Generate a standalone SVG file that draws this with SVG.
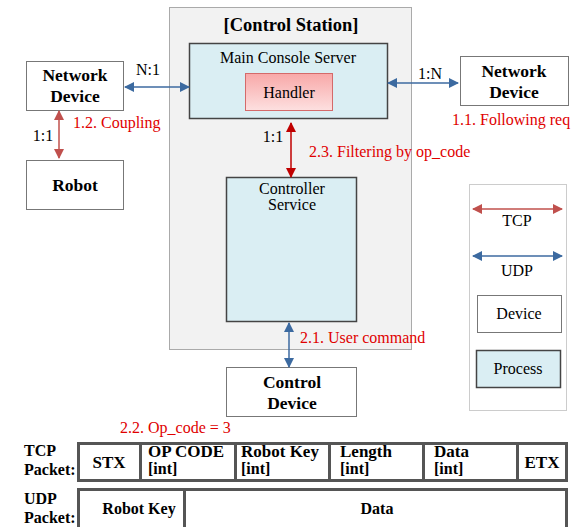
<svg xmlns="http://www.w3.org/2000/svg" width="575" height="527" viewBox="0 0 575 527">
<defs>
<marker id="ab" viewBox="0 0 10 10" refX="9" refY="5" markerWidth="10" markerHeight="10" markerUnits="userSpaceOnUse" orient="auto-start-reverse"><path d="M0,0 L10,5 L0,10 z" fill="#3c6aa0"/></marker>
<marker id="ar" viewBox="0 0 10 10" refX="9" refY="5" markerWidth="10" markerHeight="10" markerUnits="userSpaceOnUse" orient="auto-start-reverse"><path d="M0,0 L10,5 L0,10 z" fill="#c0504d"/></marker>
<marker id="ar2" viewBox="0 0 10 10" refX="9" refY="5" markerWidth="10" markerHeight="10" markerUnits="userSpaceOnUse" orient="auto-start-reverse"><path d="M0,0 L10,5 L0,10 z" fill="#c00000"/></marker>
<linearGradient id="hg" x1="0" y1="0" x2="0" y2="1"><stop offset="0" stop-color="#f8a8a8"/><stop offset="1" stop-color="#fde0e0"/></linearGradient>
</defs>
<style>
.b{font-weight:bold;font-size:17.5px}
.p{font-weight:bold;font-size:16px}
.c{font-weight:bold;font-size:17px}
.i{font-weight:bold;font-size:16px}
.n{font-size:16px}
.r{fill:#e00000;font-size:16px}
.dev{fill:#fff;stroke:#777;stroke-width:1}
.proc{fill:#daeef3;stroke:#444;stroke-width:1.5}
.cell{fill:#fff;stroke:#555;stroke-width:3}
.blue{stroke:#3c6aa0;stroke-width:1.5;fill:none}
.red{stroke:#c0504d;stroke-width:1.5;fill:none}
.red2{stroke:#c00000;stroke-width:1.5;fill:none}
</style>
<rect width="575" height="527" fill="#fff"/>
<g id="control-station">
<rect x="169.5" y="7.5" width="242" height="342" fill="#f2f2f2" stroke="#aaa"/>
<text x="291" y="31" text-anchor="middle" font-family="Liberation Serif" style="font-weight:bold;font-size:18.5px">[Control Station]</text>
</g>
<g id="main-console">
<rect x="189.5" y="43.5" width="198" height="75" class="proc"/>
<text x="288" y="63" text-anchor="middle" font-family="Liberation Serif" class="n">Main Console Server</text>
</g>
<g id="handler">
<rect x="245.5" y="73.5" width="87" height="37" fill="url(#hg)" stroke="#d46a6a"/>
<text x="289" y="98" text-anchor="middle" font-family="Liberation Serif" class="n">Handler</text>
</g>
<g id="controller-service">
<rect x="226.5" y="177.5" width="130" height="144" class="proc"/>
<text x="292" y="194" text-anchor="middle" font-family="Liberation Serif" class="n">Controller</text>
<text x="292" y="210" text-anchor="middle" font-family="Liberation Serif" class="n">Service</text>
</g>
<g id="network-device-left">
<rect x="26.5" y="61.5" width="97" height="49" class="dev"/>
<text x="75" y="81" text-anchor="middle" font-family="Liberation Serif" class="b">Network</text>
<text x="75" y="102" text-anchor="middle" font-family="Liberation Serif" class="b">Device</text>
</g>
<g id="robot">
<rect x="26.5" y="160.5" width="97" height="49" class="dev"/>
<text x="75" y="191" text-anchor="middle" font-family="Liberation Serif" class="b">Robot</text>
</g>
<g id="network-device-right">
<rect x="460.5" y="56.5" width="108" height="49" class="dev"/>
<text x="514" y="77" text-anchor="middle" font-family="Liberation Serif" class="b">Network</text>
<text x="514" y="98" text-anchor="middle" font-family="Liberation Serif" class="b">Device</text>
</g>
<g id="control-device">
<rect x="226.5" y="367.5" width="130" height="49" class="dev"/>
<text x="292" y="388" text-anchor="middle" font-family="Liberation Serif" class="b">Control</text>
<text x="292" y="409" text-anchor="middle" font-family="Liberation Serif" class="b">Device</text>
</g>
<g id="connectors">
<line x1="125" y1="87" x2="189" y2="87" class="blue" marker-start="url(#ab)" marker-end="url(#ab)"/>
<line x1="388" y1="83" x2="458" y2="83" class="blue" marker-start="url(#ab)" marker-end="url(#ab)"/>
<line x1="59" y1="111" x2="59" y2="158" class="red" marker-start="url(#ar)" marker-end="url(#ar)"/>
<line x1="291" y1="123" x2="291" y2="177" class="red2" marker-start="url(#ar2)" marker-end="url(#ar2)"/>
<line x1="289" y1="323" x2="289" y2="367" class="blue" marker-start="url(#ab)" marker-end="url(#ab)"/>
</g>
<g id="labels">
<text x="148" y="75" text-anchor="middle" font-family="Liberation Serif" class="n">N:1</text>
<text x="430" y="79" text-anchor="middle" font-family="Liberation Serif" class="n">1:N</text>
<text x="43" y="141" text-anchor="middle" font-family="Liberation Serif" class="n">1:1</text>
<text x="273" y="142" text-anchor="middle" font-family="Liberation Serif" class="n">1:1</text>
<text x="73" y="128" font-family="Liberation Serif" class="r">1.2. Coupling</text>
<text x="452" y="125" font-family="Liberation Serif" class="r">1.1. Following req</text>
<text x="309" y="157" font-family="Liberation Serif" class="r">2.3. Filtering by op_code</text>
<text x="300" y="343" font-family="Liberation Serif" class="r">2.1. User command</text>
<text x="120" y="433" font-family="Liberation Serif" class="r">2.2. Op_code = 3</text>
</g>
<g id="legend">
<rect x="469.5" y="184.5" width="97" height="226" fill="#fff" stroke="#ccc"/>
<line x1="473" y1="209" x2="562" y2="209" class="red" marker-start="url(#ar)" marker-end="url(#ar)"/>
<text x="517" y="226" text-anchor="middle" font-family="Liberation Serif" class="n">TCP</text>
<line x1="473" y1="256" x2="562" y2="256" class="blue" marker-start="url(#ab)" marker-end="url(#ab)"/>
<text x="517" y="276" text-anchor="middle" font-family="Liberation Serif" class="n">UDP</text>
<rect x="477.5" y="295.5" width="84" height="37" class="dev"/>
<text x="519" y="319" text-anchor="middle" font-family="Liberation Serif" class="n">Device</text>
<rect x="476.5" y="350.5" width="84" height="37" class="proc"/>
<text x="518" y="374" text-anchor="middle" font-family="Liberation Serif" class="n">Process</text>
</g>
<g id="tcp-packet">
<text x="24" y="456" font-family="Liberation Serif" class="p">TCP</text>
<text x="24" y="475" font-family="Liberation Serif" class="p">Packet:</text>
<rect x="78.5" y="443.5" width="62" height="37" class="cell"/>
<rect x="140.5" y="443.5" width="95" height="37" class="cell"/>
<rect x="235.5" y="443.5" width="94" height="37" class="cell"/>
<rect x="329.5" y="443.5" width="94" height="37" class="cell"/>
<rect x="423.5" y="443.5" width="94" height="37" class="cell"/>
<rect x="517.5" y="443.5" width="49" height="37" class="cell"/>
<text x="109" y="468" text-anchor="middle" font-family="Liberation Serif" class="c">STX</text>
<text x="148" y="457" font-family="Liberation Serif" class="c">OP CODE</text>
<text x="148" y="474" font-family="Liberation Serif" class="i">[int]</text>
<text x="241" y="457" font-family="Liberation Serif" class="c">Robot Key</text>
<text x="241" y="474" font-family="Liberation Serif" class="i">[int]</text>
<text x="340" y="457" font-family="Liberation Serif" class="c">Length</text>
<text x="340" y="474" font-family="Liberation Serif" class="i">[int]</text>
<text x="434" y="457" font-family="Liberation Serif" class="c">Data</text>
<text x="434" y="474" font-family="Liberation Serif" class="i">[int]</text>
<text x="542" y="468" text-anchor="middle" font-family="Liberation Serif" class="c">ETX</text>
</g>
<g id="udp-packet">
<text x="24" y="504" font-family="Liberation Serif" class="p">UDP</text>
<text x="24" y="523" font-family="Liberation Serif" class="p">Packet:</text>
<rect x="78.5" y="489.5" width="106" height="40" class="cell"/>
<rect x="184.5" y="489.5" width="382" height="40" class="cell"/>
<text x="139" y="514" text-anchor="middle" font-family="Liberation Serif" class="p">Robot Key</text>
<text x="377" y="514" text-anchor="middle" font-family="Liberation Serif" class="p">Data</text>
</g>
</svg>
